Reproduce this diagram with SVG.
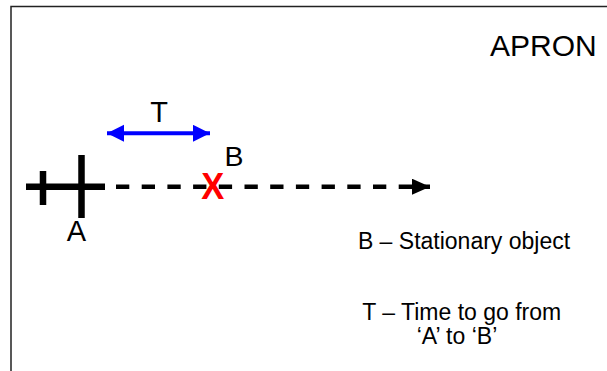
<svg xmlns="http://www.w3.org/2000/svg" width="607" height="371" viewBox="0 0 607 371">
<style>
.t{font-family:"Liberation Sans",Arial,sans-serif;fill:#000}
.cross{stroke:#000;stroke-width:6.5;fill:none}
</style>
<defs>
<marker id="blk" markerUnits="userSpaceOnUse" markerWidth="20" markerHeight="18" refX="18" refY="8" orient="auto">
<path d="M0,0 L18,8 L0,16 Z" fill="#000"/>
</marker>
<marker id="blu" markerUnits="userSpaceOnUse" markerWidth="19" markerHeight="18" refX="17" refY="8.5" orient="auto-start-reverse">
<path d="M0,0 L17,8.5 L0,17 Z" fill="#0000ff"/>
</marker>
</defs>
<rect width="607" height="371" fill="#fff"/>
<path d="M11,371 V6.5 H607" fill="none" stroke="#222" stroke-width="1.5"/>
<g id="title"><text class="t" x="490" y="56" font-size="30">APRON</text></g>
<g id="connectors">
<line x1="116" y1="186.7" x2="430" y2="186.7" stroke="#000" stroke-width="4.5" stroke-dasharray="13.3 12.4" marker-end="url(#blk)"/>
<line x1="107" y1="133.3" x2="210" y2="133.3" stroke="#0000ff" stroke-width="4" marker-start="url(#blu)" marker-end="url(#blu)"/>
</g>
<g id="nodeA">
<path class="cross" d="M26,186.7 H105 M43,171 V205 M81.5,155 V218"/>
<text class="t" x="76.5" y="241" font-size="29" text-anchor="middle">A</text>
</g>
<g id="nodeB">
<text x="212.8" y="199" font-family="Liberation Sans,Arial,sans-serif" font-weight="bold" font-size="37" fill="#ff0000" text-anchor="middle" textLength="23" lengthAdjust="spacingAndGlyphs">X</text>
<text class="t" x="224.5" y="166" font-size="28.5">B</text>
</g>
<g id="labelT"><text class="t" x="159" y="121.7" font-size="29" text-anchor="middle">T</text></g>
<g id="legend">
<text class="t" x="464" y="249" font-size="23" text-anchor="middle">B – Stationary object</text>
<text class="t" x="461.7" y="319.5" font-size="23" text-anchor="middle">T – Time to go from</text>
<text class="t" x="457" y="344" font-size="23" text-anchor="middle">‘A’ to ‘B’</text>
</g>
</svg>
